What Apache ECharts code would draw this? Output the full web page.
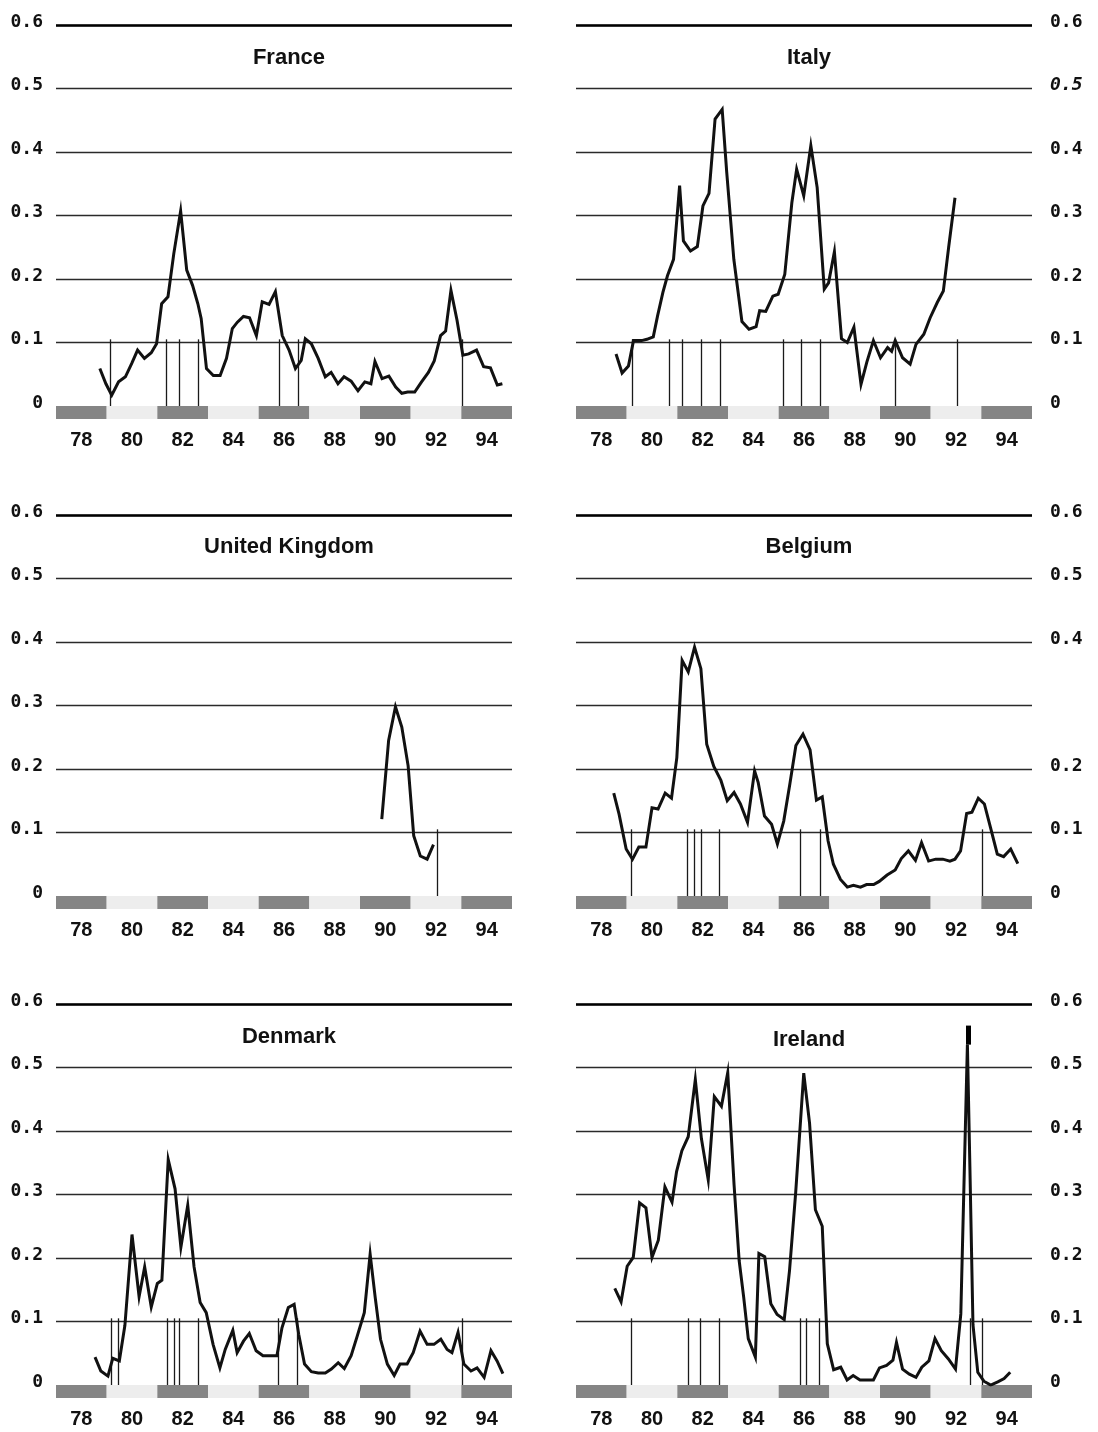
<!DOCTYPE html>
<html>
<head>
<meta charset="utf-8">
<script src="https://cdn.jsdelivr.net/npm/echarts@6/dist/echarts.min.js"></script>
<style>
html,body{margin:0;padding:0;background:#ffffff;}
#chart{width:1098px;height:1432px;}
</style>
</head>
<body>
<div id="chart"></div>
<script>
// ---------- data ----------
const YEAR_LABELS = ['78','80','82','84','86','88','90','92','94'];
const BAND_SHADES = ['dark','light','dark','light','dark','light','dark','light','dark'];
const Y_TICK_VALUES = [0, 0.1, 0.2, 0.3, 0.4, 0.5, 0.6];

const FRANCE = [[1979.23,0.059],[1979.47,0.035],[1979.7,0.017],[1979.97,0.038],[1980.24,0.046],[1980.49,0.067],[1980.72,0.088],[1980.99,0.075],[1981.26,0.084],[1981.47,0.098],[1981.67,0.161],[1981.92,0.172],[1982.15,0.24],[1982.42,0.307],[1982.66,0.214],[1982.89,0.19],[1983.1,0.161],[1983.23,0.138],[1983.44,0.059],[1983.71,0.048],[1983.98,0.048],[1984.23,0.075],[1984.46,0.122],[1984.66,0.132],[1984.9,0.141],[1985.14,0.139],[1985.41,0.111],[1985.64,0.164],[1985.91,0.16],[1986.16,0.18],[1986.43,0.111],[1986.7,0.088],[1986.95,0.059],[1987.18,0.072],[1987.34,0.106],[1987.58,0.098],[1987.85,0.075],[1988.13,0.046],[1988.36,0.053],[1988.63,0.035],[1988.87,0.046],[1989.15,0.039],[1989.42,0.024],[1989.69,0.038],[1989.93,0.035],[1990.09,0.07],[1990.37,0.043],[1990.64,0.047],[1990.91,0.03],[1991.15,0.02],[1991.38,0.022],[1991.66,0.022],[1991.93,0.038],[1992.2,0.053],[1992.43,0.071],[1992.68,0.111],[1992.88,0.118],[1993.09,0.182],[1993.33,0.135],[1993.56,0.08],[1993.79,0.082],[1994.1,0.088],[1994.38,0.062],[1994.65,0.06],[1994.92,0.033],[1995.12,0.035]];
const ITALY = [[1979.08,0.082],[1979.32,0.052],[1979.57,0.063],[1979.77,0.103],[1980.09,0.103],[1980.3,0.105],[1980.55,0.109],[1980.72,0.142],[1980.93,0.179],[1981.11,0.205],[1981.35,0.231],[1981.59,0.347],[1981.74,0.26],[1982.02,0.244],[1982.29,0.251],[1982.51,0.315],[1982.75,0.335],[1982.99,0.452],[1983.27,0.467],[1983.45,0.368],[1983.73,0.231],[1984.05,0.133],[1984.33,0.121],[1984.61,0.125],[1984.75,0.15],[1984.99,0.149],[1985.27,0.173],[1985.48,0.176],[1985.74,0.207],[1986.02,0.32],[1986.21,0.373],[1986.49,0.331],[1986.77,0.41],[1987.02,0.344],[1987.3,0.184],[1987.47,0.194],[1987.7,0.243],[1987.98,0.106],[1988.21,0.1],[1988.47,0.124],[1988.75,0.034],[1988.98,0.069],[1989.24,0.103],[1989.52,0.076],[1989.8,0.092],[1989.96,0.086],[1990.1,0.103],[1990.39,0.076],[1990.69,0.066],[1990.92,0.097],[1991.23,0.113],[1991.48,0.139],[1991.76,0.163],[1992.0,0.181],[1992.21,0.25],[1992.46,0.328]];
const UNITED_KINGDOM = [[1990.36,0.121],[1990.63,0.245],[1990.9,0.298],[1991.15,0.266],[1991.4,0.205],[1991.62,0.095],[1991.88,0.063],[1992.15,0.058],[1992.4,0.081]];
const BELGIUM = [[1978.99,0.162],[1979.2,0.129],[1979.48,0.074],[1979.73,0.058],[1979.98,0.077],[1980.26,0.077],[1980.5,0.139],[1980.74,0.137],[1981.02,0.162],[1981.27,0.154],[1981.48,0.218],[1981.69,0.371],[1981.93,0.353],[1982.18,0.392],[1982.43,0.358],[1982.66,0.239],[1982.94,0.204],[1983.22,0.182],[1983.47,0.15],[1983.74,0.163],[1983.99,0.145],[1984.27,0.116],[1984.55,0.197],[1984.69,0.179],[1984.94,0.126],[1985.22,0.113],[1985.45,0.082],[1985.7,0.118],[1985.94,0.176],[1986.18,0.237],[1986.46,0.255],[1986.74,0.23],[1986.99,0.151],[1987.22,0.156],[1987.45,0.087],[1987.66,0.05],[1987.94,0.026],[1988.21,0.014],[1988.45,0.017],[1988.73,0.014],[1988.97,0.018],[1989.25,0.018],[1989.47,0.023],[1989.78,0.033],[1990.1,0.041],[1990.34,0.059],[1990.62,0.071],[1990.9,0.056],[1991.14,0.084],[1991.42,0.055],[1991.7,0.058],[1991.98,0.058],[1992.26,0.055],[1992.46,0.058],[1992.68,0.071],[1992.92,0.13],[1993.13,0.132],[1993.38,0.154],[1993.62,0.145],[1993.86,0.108],[1994.13,0.066],[1994.38,0.062],[1994.66,0.074],[1994.94,0.051]];
const DENMARK = [[1979.04,0.044],[1979.27,0.022],[1979.55,0.014],[1979.74,0.042],[1980.0,0.038],[1980.22,0.094],[1980.5,0.237],[1980.78,0.139],[1981.0,0.186],[1981.26,0.123],[1981.5,0.16],[1981.68,0.165],[1981.93,0.355],[1982.2,0.309],[1982.43,0.217],[1982.7,0.283],[1982.95,0.186],[1983.19,0.13],[1983.43,0.114],[1983.7,0.064],[1983.97,0.027],[1984.18,0.056],[1984.48,0.086],[1984.65,0.051],[1984.9,0.069],[1985.13,0.081],[1985.4,0.054],[1985.67,0.046],[1985.95,0.046],[1986.22,0.046],[1986.42,0.09],[1986.67,0.122],[1986.9,0.127],[1987.08,0.08],[1987.31,0.033],[1987.58,0.021],[1987.85,0.019],[1988.13,0.019],[1988.37,0.025],[1988.64,0.035],[1988.88,0.026],[1989.15,0.046],[1989.39,0.077],[1989.67,0.114],[1989.9,0.206],[1990.1,0.138],[1990.31,0.072],[1990.58,0.033],[1990.85,0.015],[1991.08,0.033],[1991.36,0.033],[1991.6,0.051],[1991.87,0.085],[1992.15,0.064],[1992.42,0.064],[1992.69,0.072],[1992.94,0.056],[1993.13,0.051],[1993.37,0.083],[1993.6,0.033],[1993.88,0.022],[1994.12,0.027],[1994.4,0.012],[1994.67,0.054],[1994.91,0.038],[1995.14,0.018]];
const IRELAND = [[1979.03,0.152],[1979.28,0.131],[1979.52,0.187],[1979.76,0.201],[1980.01,0.287],[1980.26,0.279],[1980.5,0.201],[1980.75,0.228],[1981.01,0.312],[1981.29,0.288],[1981.47,0.336],[1981.68,0.369],[1981.93,0.391],[1982.21,0.481],[1982.45,0.388],[1982.72,0.323],[1982.96,0.454],[1983.24,0.439],[1983.49,0.492],[1983.74,0.315],[1983.94,0.196],[1984.12,0.138],[1984.3,0.073],[1984.58,0.044],[1984.72,0.207],[1984.95,0.202],[1985.19,0.128],[1985.44,0.111],[1985.72,0.103],[1985.93,0.181],[1986.17,0.302],[1986.49,0.491],[1986.72,0.412],[1986.95,0.276],[1987.22,0.25],[1987.42,0.065],[1987.67,0.024],[1987.95,0.028],[1988.2,0.008],[1988.44,0.015],[1988.71,0.008],[1988.99,0.008],[1989.24,0.008],[1989.48,0.027],[1989.76,0.031],[1990.01,0.039],[1990.15,0.067],[1990.39,0.025],[1990.66,0.017],[1990.92,0.012],[1991.15,0.028],[1991.43,0.038],[1991.67,0.073],[1991.92,0.054],[1992.2,0.041],[1992.48,0.025],[1992.69,0.112],[1992.95,0.536],[1993.05,0.34],[1993.17,0.095],[1993.36,0.02],[1993.6,0.006],[1993.87,0.0],[1994.15,0.005],[1994.4,0.01],[1994.64,0.02]];
const IRELAND_OFFSCALE_MARK = [1992.97, 0.536, 0.566];

const FRANCE_EVENTS = [1979.66,1981.87,1982.38,1983.1,1986.3,1987.05,1993.52];
const ITALY_EVENTS = [1979.71,1981.17,1981.7,1982.44,1983.19,1985.67,1986.4,1987.14,1990.12,1992.56];
const UNITED_KINGDOM_EVENTS = [1992.53];
const BELGIUM_EVENTS = [1979.7,1981.9,1982.17,1982.43,1983.15,1986.36,1987.13,1993.55];
const DENMARK_EVENTS = [1979.7,1979.95,1981.9,1982.15,1982.38,1983.1,1986.29,1987.04,1993.54];
const IRELAND_EVENTS = [1979.7,1981.93,1982.42,1983.14,1986.37,1986.58,1987.11,1993.08,1993.52];
const EVENT_LINE_TOP = 0.105;

// ---------- layout ----------
const COL_LEFT = [56, 576];
const PLOT_W = 456;
const ROW_TOP = [25, 515, 1004];
const PLOT_H = 381;
const BAND_H = 13;
const TITLE_TOP = [42, 531, 1021];
const X_MIN = 1977.5, X_MAX = 1995.5;

const panels = [
  {name:'France', data:FRANCE, events:FRANCE_EVENTS, col:0, row:0},
  {name:'Italy', data:ITALY, events:ITALY_EVENTS, col:1, row:0, italicTick:0.5},
  {name:'United Kingdom', data:UNITED_KINGDOM, events:UNITED_KINGDOM_EVENTS, col:0, row:1},
  {name:'Belgium', data:BELGIUM, events:BELGIUM_EVENTS, col:1, row:1, hiddenTick:0.3},
  {name:'Denmark', data:DENMARK, events:DENMARK_EVENTS, col:0, row:2},
  {name:'Ireland', data:IRELAND, events:IRELAND_EVENTS, col:1, row:2, topMark:IRELAND_OFFSCALE_MARK, titleShift:3}
];

const grids = [], xAxes = [], yAxes = [], series = [], titles = [];
const labelFont = 'DejaVu Sans Mono';

panels.forEach((p, i) => {
  const gMain = 2*i, gBand = 2*i + 1;
  const left = COL_LEFT[p.col], top = ROW_TOP[p.row];
  grids.push({left: left, top: top, width: PLOT_W, height: PLOT_H});
  grids.push({left: left, top: top + PLOT_H, width: PLOT_W, height: BAND_H});

  xAxes.push({gridIndex: gMain, type: 'value', min: X_MIN, max: X_MAX, show: false});
  xAxes.push({
    gridIndex: gBand, type: 'category', data: YEAR_LABELS, boundaryGap: true,
    axisLine: {show: false}, axisTick: {show: false}, splitLine: {show: false},
    axisLabel: {fontSize: 20, fontWeight: 'bold', color: '#111', margin: 11, fontFamily: 'Liberation Sans'}
  });

  const right = p.col === 1;
  yAxes.push({
    gridIndex: gMain, type: 'value', min: 0, max: 0.6, interval: 0.1,
    position: right ? 'right' : 'left',
    axisLine: {show: false}, axisTick: {show: false},
    splitLine: {show: true, showMinLine: false, lineStyle: {color: '#2a2a2a', width: 1.3}},
    axisLabel: {
      show: true, margin: right ? 18 : 13, align: right ? 'left' : 'right',
      fontFamily: labelFont, fontWeight: 'bold', fontSize: 18, color: '#111',
      padding: [0, 0, 6, 0],
      formatter: (v) => {
        const t = Y_TICK_VALUES.find(x => Math.abs(x - v) < 1e-6);
        if (t === undefined) return '';
        if (p.hiddenTick !== undefined && Math.abs(t - p.hiddenTick) < 1e-6) return '';
        const s = t === 0 ? '0' : t.toFixed(1);
        if (p.italicTick !== undefined && Math.abs(t - p.italicTick) < 1e-6) return '{it|' + s + '}';
        return s;
      },
      rich: {it: {fontStyle: 'italic', fontWeight: 'bold', fontSize: 18, fontFamily: labelFont, color: '#111'}}
    }
  });
  yAxes.push({gridIndex: gBand, type: 'value', min: 0, max: 1, show: false});

  const mlData = [{yAxis: 0.6, lineStyle: {color: '#000', width: 2.6, type: 'solid'}}];
  p.events.forEach(t => {
    mlData.push([{coord: [t, 0]}, {coord: [t, EVENT_LINE_TOP]}]);
  });
  if (p.topMark) {
    mlData.push([{coord: [p.topMark[0], p.topMark[1]], lineStyle: {color: '#000', width: 5, type: 'solid'}},
                 {coord: [p.topMark[0], p.topMark[2]]}]);
  }

  series.push({
    type: 'line', xAxisIndex: gMain, yAxisIndex: gMain, data: p.data,
    showSymbol: false, symbol: 'none', smooth: false, z: 5,
    lineStyle: {color: '#111', width: 3, join: 'miter'},
    markLine: {
      silent: true, symbol: ['none', 'none'], animation: false,
      label: {show: false},
      lineStyle: {color: '#1a1a1a', width: 1.3, type: 'solid'},
      data: mlData
    }
  });
  series.push({
    type: 'bar', xAxisIndex: gBand, yAxisIndex: gBand, barWidth: '100%', barCategoryGap: 0,
    silent: true,
    data: BAND_SHADES.map(s => ({value: 1, itemStyle: {color: s === 'dark' ? '#858585' : '#ededed'}}))
  });

  titles.push({
    text: p.name, left: left + PLOT_W / 2, top: TITLE_TOP[p.row] + (p.titleShift || 0), textAlign: 'center',
    textStyle: {fontSize: 22, fontWeight: 'bold', fontFamily: 'Liberation Sans', color: '#111'}
  });
});

const chart = echarts.init(document.getElementById('chart'), null, {renderer: 'canvas'});
chart.setOption({
  animation: false,
  backgroundColor: '#ffffff',
  title: titles,
  grid: grids,
  xAxis: xAxes,
  yAxis: yAxes,
  series: series
});
</script>
</body>
</html>
